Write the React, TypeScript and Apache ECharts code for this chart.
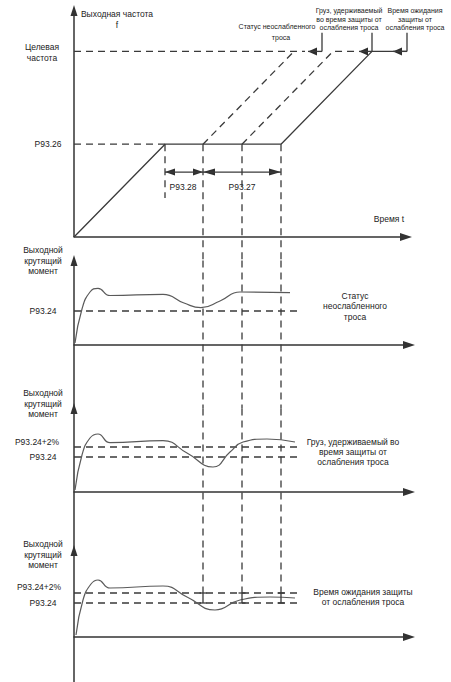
import React, { useEffect, useRef } from 'react';
import * as echarts from 'echarts';

// ---------- shared time axis (arbitrary time units) ----------
const tReachP9326 = 9.1;
const tGuides = [12.9, 16.8, 20.7];

// ---------- frequency panel (% of target frequency) ----------
const fP9326 = 50;
const fCalloutTop = 110;
const fSpanArrows = 35;
const fGuide0Bottom = 21;
const freqOutput = [[0, 0], [9.1, 50], [20.7, 50], [29.8, 100], [33.3, 100]];
const freqDashRamp1 = [[12.9, 50], [22.0, 100]];
const freqDashRamp2 = [[16.8, 50], [25.9, 100], [28.2, 100]];
const targetDash = [[0, 100], [23.1, 100]];
const p9326Dash = [[0, 50], [9.1, 50]];
const calloutStems = [24.8, 29.8, 33.3];
const calloutArrowTips = [23.4, 28.5, 31.9];
const fTarget = 100;

// ---------- torque panels ----------
const levelEnd = 22.3;
const torqueP9324 = [34, 35, 34];
const torquePlus2 = [null, 45, 44];
const torqueUnslack = [[0.1, 2], [0.8, 36], [1.6, 53], [2.4, 56.7], [3.6, 49.5], [8.9, 50.7], [11.0, 42], [12.7, 37.3], [14.6, 44], [16.6, 53], [21.6, 52.3]];
const torqueHeld = [[0.1, 2], [0.8, 37], [1.6, 54], [2.4, 58], [3.6, 49.3], [8.9, 51.3], [11.3, 39], [13.9, 25], [15.6, 40], [16.9, 50], [19.3, 53], [22.1, 50]];
const torqueWait = [[0.2, 2], [0.9, 37], [1.7, 53], [2.4, 57], [3.6, 49], [8.9, 51], [11.3, 40], [14.1, 27], [16.6, 37], [19.6, 40], [22.1, 39]];

// ---------- texts ----------
const torqueTitle = ['Выходной', 'крутящий', 'момент'];

// ---------- layout (pixels) ----------
const LEFT = 74;
const PX_PER_T = 10;
const panels = [
  { top: 10.5, bottom: 260.5, zero: 237, k: 1.856, xEnd: 406 },
  { top: 260.5, bottom: 408.5, zero: 345, k: 1, xEnd: 409 },
  { top: 408.5, bottom: 550.5, zero: 492, k: 1, xEnd: 409 },
  { top: 550.5, bottom: 682, zero: 637, k: 1, xEnd: 409 },
];
const yMin = (i: number) => -(panels[i].bottom - panels[i].zero) / panels[i].k;
const yMax = (i: number) => (panels[i].zero - panels[i].top) / panels[i].k;

const INK = '#333';
const solid = { color: '#3a3a3a', width: 1.3, type: 'solid' };
const dashed = { color: '#3a3a3a', width: 1.3, type: [7, 5] };
const curveStyle = { color: '#5a5a5a', width: 1.2, type: 'solid' };
const axisStyle = { color: INK, width: 1.5, type: 'solid' };

function buildOption() {
  const series: any[] = [];
  const line = (gi: number, data: any[], style: any, extra: any = {}) =>
    series.push({
      type: 'line', xAxisIndex: gi, yAxisIndex: gi, data, symbol: 'none', showSymbol: true,
      silent: true, clip: false, lineStyle: style, itemStyle: { color: style.color }, ...extra,
    });
  // arrowheads: [tipT, tipY, dx, dy, length, width]
  const heads: number[][] = [];
  const arrow = (tail: number, tip: number, y: number) => {
    line(0, [[tail, y], [tip, y]], solid);
    heads.push([tip, y, tip < tail ? -1 : 1, 0, 9, 8]);
  };
  const dblArrow = (a: number, b: number, y: number, len: number, wid: number) => {
    line(0, [[a, y], [b, y]], solid);
    heads.push([a, y, -1, 0, len, wid]);
    heads.push([b, y, 1, 0, len, wid]);
  };

  // panel 1 y axis with arrow
  line(0, [[0, 0], [0, yMax(0)]], axisStyle);
  line(0, [[0, yMax(0)]], axisStyle, { symbol: 'triangle', symbolSize: [7, 11], itemStyle: { color: INK } });
  // frequency
  line(0, p9326Dash, dashed);
  line(0, targetDash, dashed);
  line(0, freqOutput, solid);
  line(0, freqDashRamp1, dashed);
  line(0, freqDashRamp2, dashed);
  calloutStems.forEach((t, i) => {
    line(0, [[t, fTarget], [t, fCalloutTop]], solid);
    arrow(t, calloutArrowTips[i], fTarget);
  });
  // guides panel 1
  line(0, [[tReachP9326, fP9326], [tReachP9326, fGuide0Bottom]], dashed);
  tGuides.forEach((t) => line(0, [[t, fP9326], [t, yMin(0)]], dashed));
  dblArrow(tReachP9326, tGuides[0], fSpanArrows, 10, 7);
  dblArrow(tGuides[0], tGuides[2], fSpanArrows, 12, 7);

  series.push({
    type: 'custom', xAxisIndex: 0, yAxisIndex: 0, silent: true, clip: false,
    encode: { x: 0, y: 1 }, data: heads,
    renderItem: (_p: any, api: any) => {
      const [x, y] = api.coord([api.value(0), api.value(1)]);
      const dx = api.value(2), dy = -api.value(3), len = api.value(4), w = api.value(5) / 2;
      const bx = x - dx * len, by = y - dy * len;
      return {
        type: 'polygon',
        shape: { points: [[x, y], [bx - dy * w, by + dx * w], [bx + dy * w, by - dx * w]] },
        style: { fill: '#2e2e2e' },
      };
    },
  });

  // torque panels
  const curves = [torqueUnslack, torqueHeld, torqueWait];
  [1, 2, 3].forEach((gi, j) => {
    line(gi, [[0, torqueP9324[j]], [levelEnd, torqueP9324[j]]], dashed);
    const p2 = torquePlus2[j];
    if (p2 != null) line(gi, [[0, p2], [levelEnd, p2]], dashed);
    line(gi, curves[j], curveStyle, { smooth: 0.5 });
    tGuides.forEach((t) => {
      if (gi < 3) line(gi, [[t, yMax(gi)], [t, yMin(gi)]], dashed);
      else {
        line(gi, [[t, yMax(gi)], [t, p2 as number]], dashed);
        line(gi, [[t, p2 as number], [t, torqueP9324[j]]], solid, { symbol: 'rect', symbolSize: [7, 1.3] });
      }
    });
  });

  const grid = panels.map((p) => ({ left: LEFT, top: p.top, width: p.xEnd - LEFT, height: p.bottom - p.top, outerBoundsMode: 'none', containLabel: false }));
  const xAxis = panels.map((p, i) => ({
    type: 'value', gridIndex: i, min: 0, max: (p.xEnd - LEFT) / PX_PER_T,
    axisLine: { show: true, onZero: true, symbol: ['none', 'triangle'], symbolSize: [8, 12], lineStyle: axisStyle },
    axisTick: { show: false }, axisLabel: { show: false }, splitLine: { show: false },
  }));
  const yAxis = panels.map((p, i) => ({
    type: 'value', gridIndex: i, min: yMin(i), max: yMax(i),
    axisLine: { show: i > 0, onZero: false, symbol: ['none', 'triangle'], symbolSize: [7, 11], lineStyle: axisStyle },
    axisTick: { show: false }, axisLabel: { show: false }, splitLine: { show: false },
  }));

  const texts: [string, number, number, number?][] = [
    ['Выходная частота', 117, 14], ['f', 117, 25], ['Целевая', 42, 47], ['частота', 42, 58],
    ['P93.26', 48, 144], ['P93.28', 183, 187], ['P93.27', 242, 187], ['Время t', 389, 219],
    ['Статус неослабленного', 277, 26, 7], ['троса', 281, 37, 7],
    ['Груз, удерживаемый', 349, 10, 7], ['во время защиты от', 349, 19, 7], ['ослабления троса', 349, 27, 7],
    ['Время ожидания', 415, 10, 7], ['защиты от', 415, 19, 7], ['ослабления троса', 415, 27, 7],
    ['P93.24', 43, 311], ['Статус', 355, 296], ['неослабленного', 355, 306], ['троса', 355, 317],
    ['P93.24+2%', 37, 442], ['P93.24', 43, 457],
    ['Груз, удерживаемый во', 353, 442], ['время защиты от', 353, 452], ['ослабления троса', 353, 462],
    ['P93.24+2%', 39, 587], ['P93.24', 43, 603],
    ['Время ожидания защиты', 363, 592], ['от ослабления троса', 363, 602],
  ];
  [250, 393, 544].forEach((y0) => torqueTitle.forEach((s, i) => texts.push([s, 43, y0 + i * 10.7])));
  const graphic = texts.map(([text, x, y, size]) => ({
    type: 'text', x, y, silent: true,
    style: {
      text, fill: '#222', font: `${size || 8.5}px "Liberation Sans", Arial, sans-serif`,
      textAlign: 'center', textVerticalAlign: 'middle', align: 'center', verticalAlign: 'middle',
    },
  }));

  return { animation: false, backgroundColor: '#fff', grid, xAxis, yAxis, series, graphic };
}

export default function App() {
  const ref = useRef<HTMLDivElement>(null);
  useEffect(() => {
    const chart = echarts.init(ref.current!, null, { renderer: 'svg' });
    chart.setOption(buildOption() as any);
    return () => chart.dispose();
  }, []);
  return <div ref={ref} style={{ position: 'fixed', left: 0, top: 0, width: 451, height: 682 }} />;
}
